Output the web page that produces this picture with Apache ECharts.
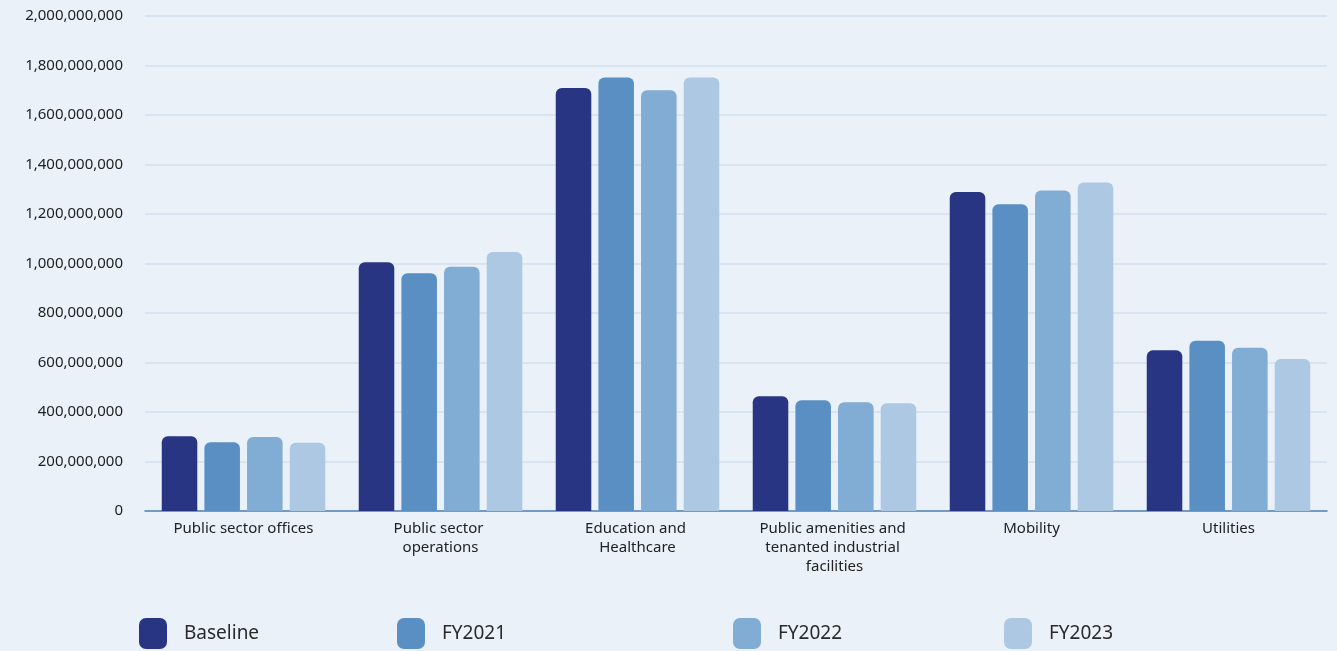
<!DOCTYPE html>
<html>
<head>
<meta charset="utf-8">
<style>
  html, body { margin: 0; padding: 0; background: #EAF1F9; }
  #chart { width: 1337px; height: 651px; }
</style>
<script src="https://cdn.jsdelivr.net/npm/echarts@6/dist/echarts.min.js"></script>
</head>
<body>
<div id="chart"></div>
<script>
// Energy use by sector, baseline vs. financial years
const categories = [
  'Public sector offices',
  'Public sector operations',
  'Education and Healthcare',
  'Public amenities and tenanted industrial facilities',
  'Mobility',
  'Utilities'
];
const seriesNames = ['Baseline', 'FY2021', 'FY2022', 'FY2023'];
const baseline = [302000000, 1005000000, 1709000000, 464000000, 1289000000, 649000000];
const fy2021   = [278000000,  961000000, 1752000000, 447000000, 1239000000, 688000000];
const fy2022   = [299000000,  987000000, 1700000000, 439000000, 1295000000, 660000000];
const fy2023   = [276000000, 1046000000, 1752000000, 435000000, 1327000000, 614000000];
const yTicks = { min: 0, max: 2000000000, interval: 200000000 };

const colors = ['#283583', '#5A8FC3', '#81ACD3', '#ADC8E3'];
const values = [baseline, fy2021, fy2022, fy2023];
const legendLeft = [134, 392, 728, 999];
const fontFamily = '"Noto Sans", "Open Sans", sans-serif';

const chart = echarts.init(document.getElementById('chart'), null, { renderer: 'canvas' });

const series = seriesNames.map((name, i) => ({
  name: name,
  type: 'bar',
  data: values[i],
  barGap: '20%',
  barCategoryGap: '17%',
  itemStyle: { color: colors[i], borderRadius: [6, 6, 0, 0] }
}));

const legends = seriesNames.map((name, i) => ({
  data: [name],
  left: legendLeft[i],
  top: 613,
  orient: 'horizontal',
  icon: 'roundRect',
  itemWidth: 28,
  itemHeight: 31,
  textStyle: {
    fontFamily: fontFamily,
    fontSize: 19,
    color: '#2a2a2a',
    padding: [0, 0, 0, 12]
  }
}));

chart.setOption({
  backgroundColor: '#EAF1F9',
  animation: false,
  color: colors,
  legend: legends,
  grid: { left: 145, right: 10, top: 16, bottom: 140 },
  xAxis: {
    type: 'category',
    data: categories,
    axisTick: { show: false },
    axisLine: { lineStyle: { color: '#4F82B8', width: 1.5 } },
    axisLabel: {
      interval: 0,
      margin: 8,
      color: '#222',
      fontFamily: fontFamily,
      fontSize: 15,
      lineHeight: 19,
      width: 160,
      overflow: 'break'
    }
  },
  yAxis: {
    type: 'value',
    min: yTicks.min,
    max: yTicks.max,
    interval: yTicks.interval,
    axisLine: { show: false },
    axisTick: { show: false },
    splitLine: { lineStyle: { color: '#D2DFEE', width: 1.5 } },
    axisLabel: {
      margin: 22,
      color: '#222',
      fontFamily: fontFamily,
      fontSize: 15,
      formatter: v => v.toLocaleString('en-US')
    }
  },
  series: series
});
</script>
</body>
</html>
